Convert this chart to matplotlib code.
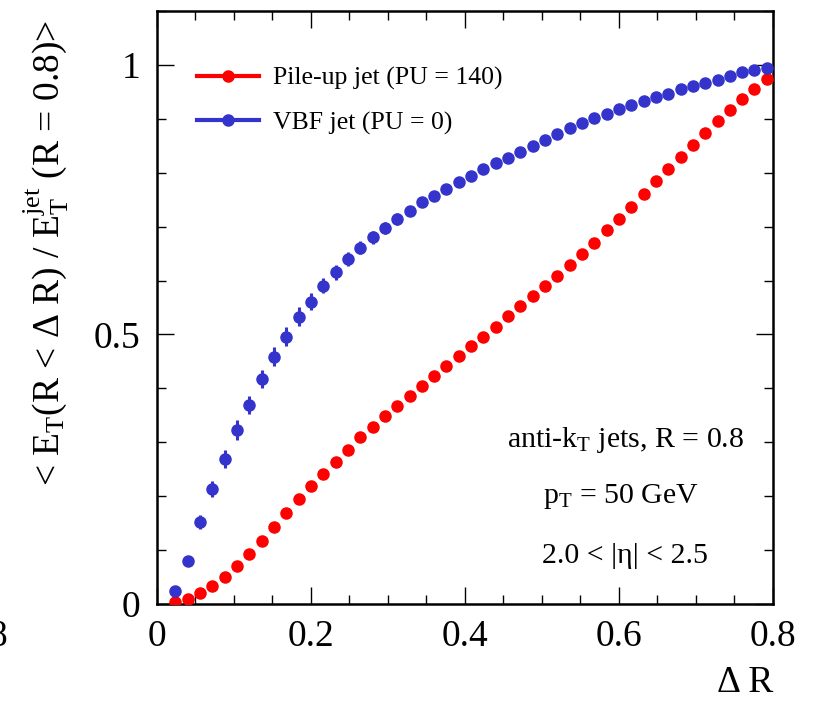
import matplotlib.pyplot as plt
from matplotlib.lines import Line2D
from matplotlib.ticker import MultipleLocator, FixedLocator, FuncFormatter

plt.rcParams['font.family'] = ['Liberation Serif', 'DejaVu Serif']
plt.rcParams['mathtext.fontset'] = 'custom'
plt.rcParams['mathtext.rm'] = 'Liberation Serif'
plt.rcParams['mathtext.it'] = 'Liberation Serif:italic'
plt.rcParams['mathtext.bf'] = 'Liberation Serif:bold'

# bin centres in delta R
delta_r = [0.024, 0.040, 0.056, 0.072, 0.088, 0.104, 0.120, 0.136, 0.152, 0.168,
           0.184, 0.200, 0.216, 0.232, 0.248, 0.264, 0.280, 0.296, 0.312, 0.328,
           0.344, 0.360, 0.376, 0.392, 0.408, 0.424, 0.440, 0.456, 0.472, 0.488,
           0.504, 0.520, 0.536, 0.552, 0.568, 0.584, 0.600, 0.616, 0.632, 0.648,
           0.664, 0.680, 0.696, 0.712, 0.728, 0.744, 0.760, 0.776, 0.792]

pileup = [0.003, 0.009, 0.020, 0.033, 0.051, 0.071, 0.093, 0.117, 0.142, 0.168,
          0.194, 0.218, 0.242, 0.264, 0.286, 0.309, 0.328, 0.349, 0.367, 0.386,
          0.405, 0.423, 0.442, 0.460, 0.479, 0.496, 0.513, 0.534, 0.553, 0.571,
          0.590, 0.609, 0.629, 0.649, 0.670, 0.693, 0.714, 0.737, 0.760, 0.784,
          0.807, 0.829, 0.852, 0.873, 0.895, 0.917, 0.936, 0.955, 0.974]

vbf = [0.024, 0.080, 0.152, 0.214, 0.269, 0.323, 0.369, 0.417, 0.459, 0.496,
       0.533, 0.561, 0.590, 0.615, 0.640, 0.661, 0.680, 0.697, 0.714, 0.729,
       0.745, 0.757, 0.769, 0.782, 0.794, 0.806, 0.818, 0.828, 0.838, 0.850,
       0.861, 0.871, 0.883, 0.892, 0.901, 0.909, 0.918, 0.926, 0.933, 0.940,
       0.946, 0.955, 0.961, 0.967, 0.972, 0.980, 0.986, 0.991, 0.995]

vbf_err = [0.005, 0.008, 0.013, 0.015, 0.017, 0.018, 0.017, 0.017, 0.017, 0.017,
           0.017, 0.015, 0.014, 0.014, 0.013, 0.012, 0.012, 0.011, 0.011, 0.010,
           0.009, 0.009, 0.008, 0.008, 0.007, 0.007, 0.006, 0.006, 0.006, 0.005,
           0.005, 0.005, 0.005, 0.004, 0.004, 0.004, 0.004, 0.004, 0.003, 0.003,
           0.003, 0.003, 0.003, 0.003, 0.002, 0.002, 0.002, 0.002, 0.002]

pileup_err = [0.002] * len(delta_r)

red = '#ff0000'
blue = '#3434cc'

fig = plt.figure(figsize=(8.21, 7.03), dpi=100)
ax = fig.add_axes([0.1912, 0.1408, 0.7503, 0.8436])

ax.errorbar(delta_r, pileup, yerr=pileup_err, fmt='o', color=red, ms=8,
            elinewidth=2, capsize=0, mec=red, zorder=3)
ax.errorbar(delta_r, vbf, yerr=vbf_err, fmt='o', color=blue, ms=8,
            elinewidth=2.2, capsize=0, mec=blue, zorder=3)

ax.set_xlim(0, 0.8)
ax.set_ylim(0, 1.1)

ax.xaxis.set_major_locator(MultipleLocator(0.2))
ax.xaxis.set_minor_locator(MultipleLocator(0.05))
ax.yaxis.set_major_locator(FixedLocator([0, 0.5, 1.0]))
ax.yaxis.set_minor_locator(MultipleLocator(0.1))
fmt = FuncFormatter(lambda v, p: '%g' % round(v, 3))
ax.xaxis.set_major_formatter(fmt)
ax.yaxis.set_major_formatter(fmt)

ax.tick_params(which='both', direction='in', top=True, right=True, width=1.0)
ax.tick_params(which='major', length=12.5)
ax.tick_params(which='minor', length=6.5)
ax.tick_params(axis='x', which='major', labelsize=27, pad=11)
ax.tick_params(axis='y', which='major', labelsize=27, pad=12)
for s in ax.spines.values():
    s.set_linewidth(1.8)

ax.set_xlabel(r'Δ R', fontsize=27, loc='right')
ax.xaxis.set_label_coords(1.0, -0.104)
ax.set_ylabel(r'< E$_\mathrm{T}$(R < Δ R) / E$_\mathrm{T}^\mathrm{jet}$ (R = 0.8)>',
              fontsize=27, loc='top')
ax.yaxis.set_label_coords(-0.14, 0.985)

handles = [Line2D([], [], color=red, lw=3, marker='o', ms=8),
           Line2D([], [], color=blue, lw=3, marker='o', ms=8)]
labels = ['Pile-up jet (PU = 140)', 'VBF jet (PU = 0)']
ax.legend(handles, labels, loc='upper left', bbox_to_anchor=(0.065, 0.906),
          frameon=False, fontsize=18.5, handlelength=2.4, handletextpad=0.55,
          labelspacing=0.82, borderpad=0, borderaxespad=0)

ax.text(0.608, 0.291, r'anti-k$_\mathrm{T}$ jets, R = 0.8', fontsize=21.5,
        ha='center', va='baseline')
ax.text(0.602, 0.187, r'p$_\mathrm{T}$ = 50 GeV', fontsize=21.5,
        ha='center', va='baseline')
ax.text(0.608, 0.076, '2.0 < |η| < 2.5', fontsize=21.5,
        ha='center', va='baseline')

# clipped tick label of the neighbouring panel at the left edge
fig.text(-0.002, 1 - 637 / 703, '8', fontsize=27, ha='center', va='center')

fig.savefig('out.png', dpi=100)
